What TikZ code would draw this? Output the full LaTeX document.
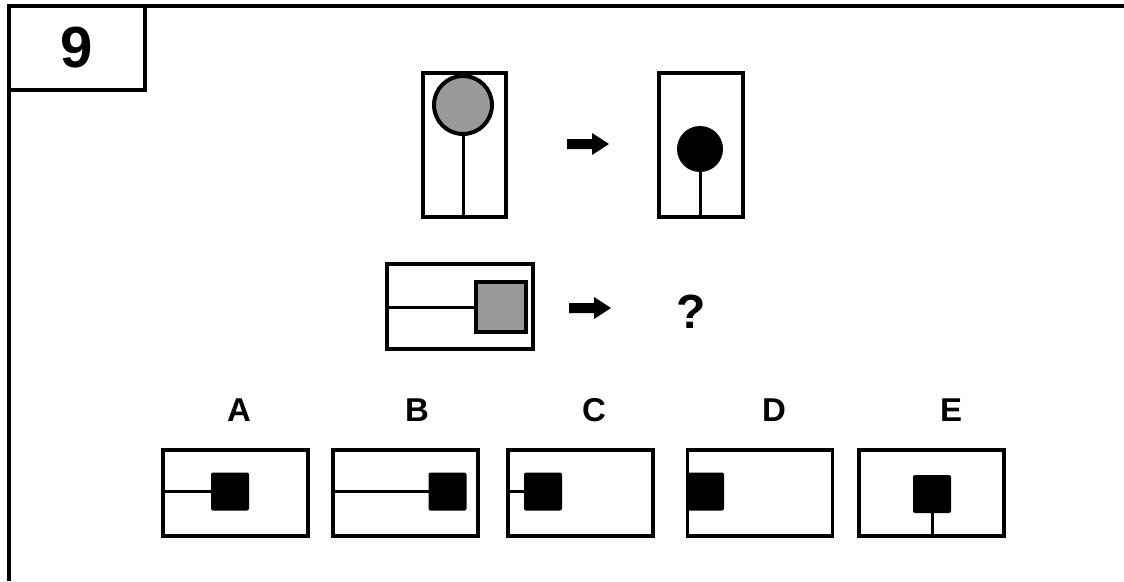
\documentclass[tikz,border=0pt]{standalone}
\usepackage{fontspec}
\setmainfont{Liberation Sans}
\begin{document}
\begin{tikzpicture}[x=1pt,y=-1pt,
  frameline/.style={line width=3.5pt},
  panel/.style={draw, line width=3.5pt, inner sep=0pt, outer sep=0pt},
  optbox/.style={panel, minimum width=145pt, minimum height=86pt},
  stem/.style={line width=3pt},
  grayfill/.style={fill=black!40, draw, line width=4pt, inner sep=0pt, outer sep=0pt},
  blk/.style={fill=black, inner sep=0pt, outer sep=0pt, minimum size=38pt, rounded corners=2pt},
  blockarrow/.style={fill=black},
  lab/.style={font=\fontsize{33}{33}\selectfont\bfseries, inner sep=0pt}
]
\useasboundingbox (0,0) rectangle (1124,581);
\fill[white] (0,0) rectangle (1124,581);

% number box and frame
\node[panel, minimum width=136pt, minimum height=84pt,
  font=\fontsize{58}{58}\selectfont\bfseries] (num) at (77,48) {9};
\coordinate (tr) at (1124,6);
\coordinate (bl) at (9,581);
\draw[frameline] (num.north east) -- (tr);
\draw[frameline] (num.south west) -- (bl);

% first row
\node[panel, minimum width=83pt, minimum height=144pt] (p1) at (464.5,145) {};
\node[grayfill, circle, minimum size=58pt] (c1) at (463,105) {};
\draw[stem] (c1.south) -- (c1.south |- p1.south);
\coordinate (a1) at (588,144);
\fill[blockarrow, shift={(a1)}] (-21,-5) -- (4,-5) -- (4,-11) -- (21,0) -- (4,11) -- (4,5) -- (-21,5) -- cycle;
\node[panel, minimum width=84pt, minimum height=144pt] (p2) at (701,145) {};
\node[circle, fill=black, inner sep=0pt, minimum size=46pt] (c2) at (700,149) {};
\draw[stem] (c2.south) -- (c2.south |- p2.south);

% second row
\node[panel, minimum width=146pt, minimum height=85pt] (r) at (460,306.5) {};
\node[grayfill, minimum size=50pt] (rs) at (500.5,307) {};
\draw[stem] (r.west |- rs) -- (rs.west);
\coordinate (a2) at (590,308);
\fill[blockarrow, shift={(a2)}] (-21,-5) -- (4,-5) -- (4,-11) -- (21,0) -- (4,11) -- (4,5) -- (-21,5) -- cycle;
\node[font=\fontsize{48}{48}\selectfont\bfseries, inner sep=0pt] (q) at (691,312) {?};

% labels
\node[lab] (lA) at (239,410) {A};
\node[lab] (lB) at (417,410) {B};
\node[lab] (lC) at (594,410) {C};
\node[lab] (lD) at (774,410) {D};
\node[lab] (lE) at (951,410) {E};

% options
\node[optbox] (oA) at (235.5,493) {};
\node[blk] (sA) at (230,491.5) {};
\draw[stem] (oA.west |- sA) -- (sA.west);

\node[optbox] (oB) at (405.5,493) {};
\node[blk] (sB) at (447.5,491.5) {};
\draw[stem] (oB.west |- sB) -- (sB.west);

\node[optbox] (oC) at (580.5,493) {};
\node[blk] (sC) at (543,491.5) {};
\draw[stem] (oC.west |- sC) -- (sC.west);

\node[optbox] (oD) at (760,493) {};
\node[blk] (sD) at (705,491.5) {};

\node[optbox] (oE) at (931.5,493) {};
\node[blk] (sE) at (932,494) {};
\draw[stem] (sE.south) -- (sE.south |- oE.south);
\end{tikzpicture}
\end{document}
